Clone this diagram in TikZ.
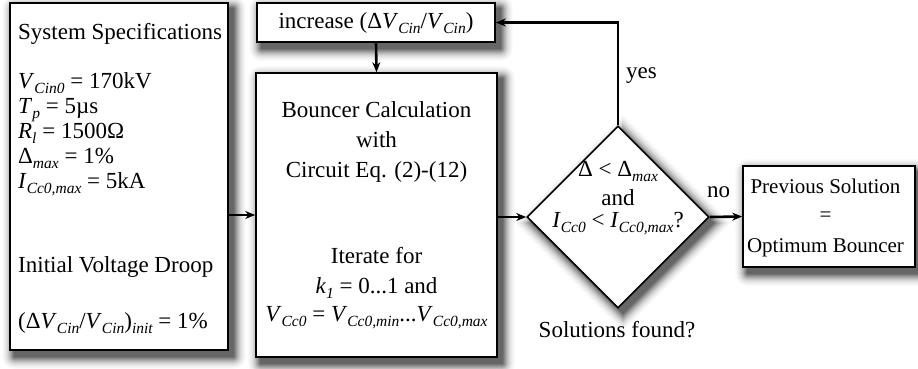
\documentclass[tikz,border=0pt]{standalone}
\usepackage{fontspec}
\setmainfont{Liberation Serif}
\usetikzlibrary{arrows.meta,shapes.geometric,backgrounds}
\newcommand\sbi[1]{\raisebox{-5pt}{\fontsize{15.5}{15.5}\selectfont\itshape #1}}
\newcommand\vs[2]{\textit{#1}\sbi{#2}}
\begin{document}
\begin{tikzpicture}[x=1pt,y=-1pt,
  every node/.style={font=\fontsize{23}{25}\selectfont, inner sep=0pt},
  boxstyle/.style={draw, line width=1.6pt, fill=white},
  decstyle/.style={diamond, draw, line width=1.6pt, fill=white, minimum width=182pt, minimum height=182pt},
  txt/.style={anchor=base west},
  ctr/.style={anchor=base},
  small/.style={font=\fontsize{21}{23}\selectfont},
  conn/.style={line width=2.6pt, -{Stealth[length=10pt,width=8pt]}}]
\useasboundingbox (0,0) rectangle (918,368);
\begin{pgfonlayer}{background}
\fill[white] (0,0) rectangle (918,368);
\end{pgfonlayer}

% boxes
\node[boxstyle, minimum width=218pt, minimum height=347pt] (spec) at (119,176.5) {};
\node[boxstyle, minimum width=238pt, minimum height=39pt] (inc) at (376,22.5) {};
\node[boxstyle, minimum width=241pt, minimum height=284pt] (bc) at (376.5,215) {};
\node[decstyle] (dec) at (618,217) {};
\node[boxstyle, minimum width=172pt, minimum height=101pt] (res) at (829,216.5) {};

% blurred drop shadows (layered grey, darkest inside)
\begin{pgfonlayer}{background}
\foreach \k/\c in {12/2,11/4,10/6,9/9,8/12,7/16,6/21,5/27,4/33,3/40,2/47,1/54,0/60}{
  \foreach \n in {spec,inc,bc,res}{
    \fill[black!\c, rounded corners=\k pt]
      ([xshift=5pt-\k pt, yshift=-6pt+\k pt]\n.north west) rectangle
      ([xshift=5pt+\k pt, yshift=-6pt-\k pt]\n.south east);
  }
  \node[diamond, fill=black!\c, inner sep=0pt, minimum width=182pt+2.83*\k pt, minimum height=182pt+2.83*\k pt]
    (sh\k) at ([xshift=5pt, yshift=-6pt]dec.center) {};
}
\end{pgfonlayer}

% left box text
\node[txt] (s1) at (18,39) {System Specifications};
\node[txt] (s2) at (18,88) {\vs{V}{Cin0} = 170kV};
\node[txt] (s3) at (18,113) {\vs{T}{p} = 5µs};
\node[txt] (s4) at (18,138) {\vs{R}{l} = 1500Ω};
\node[txt] (s5) at (18,163) {Δ\sbi{max} = 1\%};
\node[txt] (s6) at (18,188) {\vs{I}{Cc0,max} = 5kA};
\node[txt] (s7) at (18,272) {Initial Voltage Droop};
\node[txt] (s8) at (18,328) {(Δ\vs{V}{Cin}/\vs{V}{Cin})\sbi{init} = 1\%};

% increase box text
\node[ctr] (i1) at (376,28) {increase (Δ\vs{V}{Cin}/\vs{V}{Cin})};

% bouncer text
\node[ctr] (b1) at (376.5,117) {Bouncer Calculation};
\node[ctr] (b2) at (376.5,147) {with};
\node[ctr] (b3) at (376.5,177) {Circuit Eq. (2)-(12)};
\node[ctr] (b4) at (376.5,263) {Iterate for};
\node[ctr] (b5) at (376.5,293) {\vs{k}{1} = 0...1 and};
\node[ctr] (b6) at (376.5,321) {\vs{V}{Cc0} = \vs{V}{Cc0,min}...\vs{V}{Cc0,max}};

% decision text
\node[ctr] (d1) at (618,176) {Δ < Δ\sbi{max}};
\node[ctr] (d2) at (618,205) {and};
\node[ctr] (d3) at (618,227) {\vs{I}{Cc0} < \vs{I}{Cc0,max}?};
\node[ctr] (d4) at (617,337) {Solutions found?};

% result text
\node[ctr, small] (r1) at (825.5,193) {Previous Solution};
\node[ctr, small] (r2) at (825.5,221) {=};
\node[ctr, small] (r3) at (825.5,252) {Optimum Bouncer};

% labels
\node[txt] (yes) at (626,78) {yes};
\node[txt] (no) at (707,197) {no};

% connectors
\draw[conn] (spec.east |- bc.west) -- (bc.west);
\draw[conn] (inc.south) -- (bc.north);
\draw[conn] (bc.east |- dec.west) -- (dec.west);
\draw[conn] (dec.north) |- (inc.east);
\draw[conn] (dec.east) -- (res.west);
\end{tikzpicture}
\end{document}
